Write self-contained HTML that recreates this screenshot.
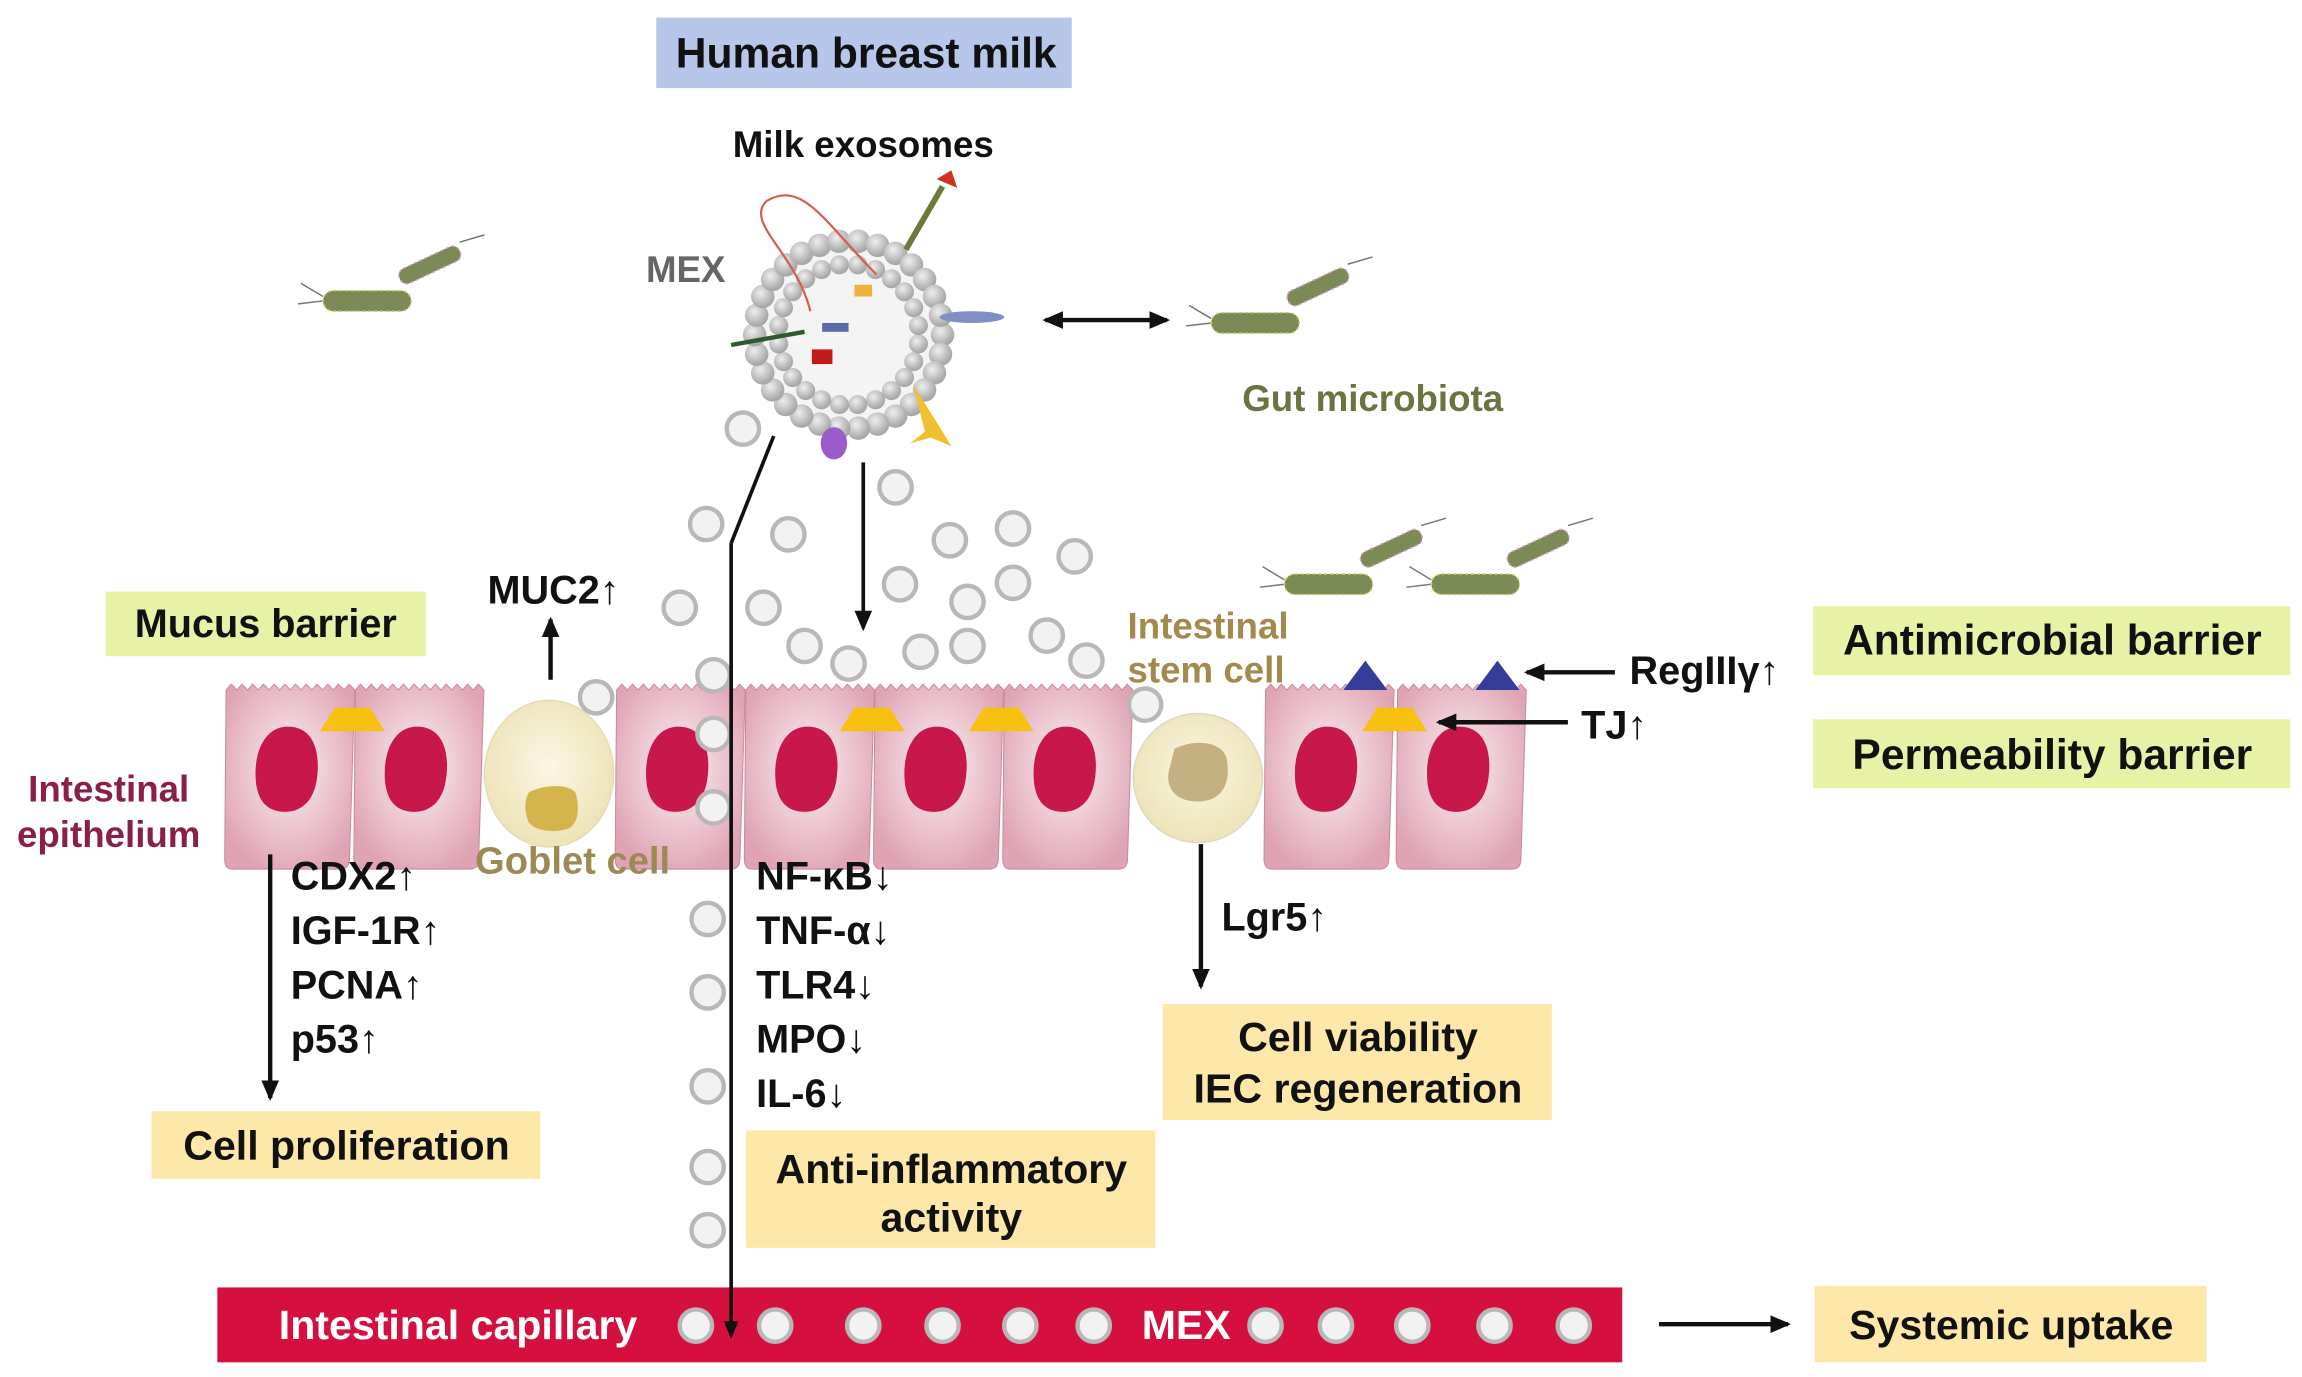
<!DOCTYPE html>
<html><head><meta charset="utf-8"><style>
html,body{margin:0;padding:0;background:#fff}
svg{display:block}
text{font-family:"Liberation Sans",Arial,sans-serif;font-weight:bold}
</style></head><body>
<svg id="s" width="2302" height="1377" viewBox="0 0 1568 938" xmlns="http://www.w3.org/2000/svg">
<defs>
<radialGradient id="cell" cx="50%" cy="45%" r="60%"><stop offset="0" stop-color="#fbf1f3"/><stop offset="1" stop-color="#dfa3b4"/></radialGradient>
<radialGradient id="gob" cx="50%" cy="45%" r="55%"><stop offset="0" stop-color="#fbf6e4"/><stop offset="1" stop-color="#ede3b8"/></radialGradient>
<radialGradient id="bead" cx="40%" cy="35%" r="60%"><stop offset="0" stop-color="#eee"/><stop offset="1" stop-color="#a8a8a8"/></radialGradient>
<marker id="ah" markerWidth="12" markerHeight="12" refX="10" refY="6" orient="auto" markerUnits="userSpaceOnUse"><path d="M0,1 L12,6 L0,11 z" fill="#111"/></marker>
<marker id="ah2" markerWidth="14" markerHeight="14" refX="12" refY="7" orient="auto" markerUnits="userSpaceOnUse"><path d="M0,1 L14,7 L0,13 z" fill="#111"/></marker>
<marker id="ahs" markerWidth="14" markerHeight="14" refX="2" refY="7" orient="auto" markerUnits="userSpaceOnUse"><path d="M14,1 L0,7 L14,13 z" fill="#111"/></marker>
<g id="bac"><line x1="-45" y1="-3" x2="-60" y2="-12" stroke="#777" stroke-width="1"/><line x1="-45" y1="0" x2="-62" y2="2" stroke="#777" stroke-width="1"/><rect x="-45" y="-7" width="60" height="14" rx="7" fill="#7c8a55" stroke="#c7d36a" stroke-dasharray="2 2"/><rect x="5" y="-20" width="45" height="11" rx="5" transform="rotate(-25 5 -20)" fill="#7c8a55" stroke="#d9a0c8" stroke-dasharray="2 2"/><line x1="48" y1="-40" x2="65" y2="-45" stroke="#777"/></g>
</defs>
<rect x="447" y="12" width="283" height="48" fill="#b7c7ea"/>
<text x="590" y="46" font-size="29" text-anchor="middle" fill="#111">Human breast milk</text>
<text x="588" y="107" font-size="25" text-anchor="middle" fill="#111">Milk exosomes</text>
<text x="440" y="192" font-size="25" fill="#666">MEX</text>
<g id="exo"></g>
<use href="#bac" x="265" y="205"/>
<use href="#bac" x="870" y="220"/>
<use href="#bac" x="920" y="398"/>
<use href="#bac" x="1020" y="398"/>
<line x1="712" y1="218" x2="795" y2="218" stroke="#111" stroke-width="3" marker-end="url(#ah2)" marker-start="url(#ahs)"/>
<text x="935" y="280" font-size="25" text-anchor="middle" fill="#6c7340">Gut microbiota</text>
<g id="cells"></g>
<g id="ves"></g>
<line x1="588" y1="315" x2="588" y2="428" stroke="#111" stroke-width="2.5" marker-end="url(#ah2)"/>
<rect x="72" y="403" width="218" height="44" fill="#e8f2a6"/>
<text x="181" y="434" font-size="27" text-anchor="middle" fill="#111">Mucus barrier</text>
<text x="377" y="411" font-size="27" text-anchor="middle" fill="#111">MUC2↑</text>
<line x1="375" y1="463" x2="375" y2="422" stroke="#111" stroke-width="3" marker-end="url(#ah2)"/>
<text x="768" y="435" font-size="25" fill="#a28a4d">Intestinal</text>
<text x="768" y="465" font-size="25" fill="#a28a4d">stem cell</text>
<rect x="1235" y="413" width="325" height="47" fill="#e8f2a6"/>
<text x="1398" y="446" font-size="29" text-anchor="middle" fill="#111">Antimicrobial barrier</text>
<rect x="1235" y="490" width="325" height="47" fill="#e8f2a6"/>
<text x="1398" y="524" font-size="29" text-anchor="middle" fill="#111">Permeability barrier</text>
<text x="1110" y="466" font-size="27" fill="#111">RegIIIγ↑</text>
<line x1="1100" y1="458" x2="1040" y2="458" stroke="#111" stroke-width="3" marker-end="url(#ah2)"/>
<text x="1077" y="503" font-size="27" fill="#111">TJ↑</text>
<line x1="1068" y1="492" x2="980" y2="492" stroke="#111" stroke-width="3" marker-end="url(#ah2)"/>
<text x="74" y="546" font-size="25" text-anchor="middle" fill="#8a1f4a">Intestinal</text>
<text x="74" y="577" font-size="25" text-anchor="middle" fill="#8a1f4a">epithelium</text>
<text x="390" y="595" font-size="26" text-anchor="middle" fill="#9c8a55">Goblet cell</text>
<line x1="184" y1="582" x2="184" y2="748" stroke="#111" stroke-width="3" marker-end="url(#ah2)"/>
<g font-size="27" fill="#111"><text x="198" y="606">CDX2↑</text><text x="198" y="643">IGF-1R↑</text><text x="198" y="680">PCNA↑</text><text x="198" y="717">p53↑</text>
<text x="515" y="606">NF-κB↓</text><text x="515" y="643">TNF-α↓</text><text x="515" y="680">TLR4↓</text><text x="515" y="717">MPO↓</text><text x="515" y="754">IL-6↓</text>
<text x="832" y="634">Lgr5↑</text></g>
<line x1="818" y1="575" x2="818" y2="672" stroke="#111" stroke-width="3" marker-end="url(#ah2)"/>
<rect x="103" y="757" width="265" height="46" fill="#fde7a9"/>
<text x="236" y="790" font-size="28" text-anchor="middle" fill="#111">Cell proliferation</text>
<rect x="508" y="770" width="279" height="80" fill="#fde7a9"/>
<text x="648" y="806" font-size="28" text-anchor="middle" fill="#111">Anti-inflammatory</text>
<text x="648" y="839" font-size="28" text-anchor="middle" fill="#111">activity</text>
<rect x="792" y="684" width="265" height="79" fill="#fde7a9"/>
<text x="925" y="716" font-size="28" text-anchor="middle" fill="#111">Cell viability</text>
<text x="925" y="751" font-size="28" text-anchor="middle" fill="#111">IEC regeneration</text>
<rect x="148" y="877" width="957" height="51" fill="#d5103f"/>
<text x="312" y="912" font-size="28" text-anchor="middle" fill="#fff">Intestinal capillary</text>
<text x="808" y="912" font-size="28" text-anchor="middle" fill="#fff">MEX</text>
<g id="capv"></g>
<line x1="527" y1="297" x2="498" y2="370" stroke="#111" stroke-width="2.5"/>
<line x1="498" y1="370" x2="498" y2="910" stroke="#111" stroke-width="2.5" marker-end="url(#ah)"/>
<line x1="1130" y1="902" x2="1218" y2="902" stroke="#111" stroke-width="3" marker-end="url(#ah2)"/>
<rect x="1236" y="876" width="267" height="52" fill="#fde7a9"/>
<text x="1370" y="912" font-size="28" text-anchor="middle" fill="#111">Systemic uptake</text>
</svg>
<script>
var NS="http://www.w3.org/2000/svg";
function el(p,t,a){var e=document.createElementNS(NS,t);for(var k in a)e.setAttribute(k,a[k]);document.getElementById(p).appendChild(e);return e;}
var cx=578,cy=228;
el("exo","circle",{cx:cx,cy:cy,r:66,fill:"#f4f4f4"});
for(var i=0;i<30;i++){var a=i/30*2*Math.PI;el("exo","circle",{cx:cx+64*Math.cos(a),cy:cy+64*Math.sin(a),r:8,fill:"url(#bead)"});}
for(var i=0;i<24;i++){var a=(i+.5)/24*2*Math.PI;el("exo","circle",{cx:cx+48*Math.cos(a),cy:cy+48*Math.sin(a),r:6.5,fill:"url(#bead)"});}
el("exo","rect",{x:553,y:238,width:14,height:10,fill:"#c21a1a"});
el("exo","rect",{x:560,y:220,width:18,height:6,fill:"#5a6aa8"});
el("exo","rect",{x:582,y:194,width:12,height:8,fill:"#f0b040"});
el("exo","ellipse",{cx:662,cy:216,rx:22,ry:4,fill:"#7f8fc4"});
el("exo","ellipse",{cx:568,cy:302,rx:9,ry:11,fill:"#9a5ccc"});
el("exo","line",{x1:548,y1:226,x2:498,y2:235,stroke:"#2f5a2f","stroke-width":3});
el("exo","line",{x1:617,y1:170,x2:642,y2:127,stroke:"#6b7a3a","stroke-width":4});
el("exo","path",{d:"M638,122 l10,-6 l4,12 z",fill:"#d03020"});
el("exo","path",{d:"M622,262 l8,32 l-10,8 l14,-4 l14,6 l-6,-10 z",fill:"#f0c030"});
el("exo","path",{d:"M597,187 C562,152 547,122 522,137 C507,152 542,172 552,212",fill:"none",stroke:"#d06050","stroke-width":1.5});
var cw=[[152,"c"],[240,"c"],[330,"g"],[418,"c"],[506,"c"],[594,"c"],[682,"c"],[772,"s"],[860,"c"],[950,"c"]];
cw.forEach(function(c){var x=c[0];
 if(c[1]=="c"){var p="M"+(x+2)+",470 ";for(var k=0;k<12;k++){p+="L"+(x+2+k*7.3+3.5)+",466 L"+(x+2+(k+1)*7.3)+",470 ";}
  p+="L"+(x+86)+",585 Q"+(x+86)+",592 "+(x+80)+",592 L"+(x+6)+",592 Q"+(x+1)+",592 "+(x+1)+",585 Z";
  el("cells","path",{d:p,fill:"url(#cell)",stroke:"#c98a9c","stroke-width":0.7});
  el("cells","path",{d:"M"+(x+44)+","+495+" c18,0 22,18 20,34 c-2,18 -12,24 -22,24 c-14,0 -20,-10 -20,-26 c0,-18 8,-32 22,-32z",fill:"#c8174a"});
 } else if(c[1]=="g"){el("cells","ellipse",{cx:x+44,cy:527,rx:44,ry:50,fill:"url(#gob)",stroke:"#e6dcb0"});
  el("cells","path",{d:"M"+(x+30)+",540 c10,-6 28,-6 32,0 c3,10 2,20 -4,24 c-10,4 -24,2 -28,-4 c-3,-8 -3,-14 0,-20z",fill:"#d4b44c"});
 } else {el("cells","ellipse",{cx:x+44,cy:530,rx:44,ry:44,fill:"url(#gob)",stroke:"#e0d8c0"});
  el("cells","path",{d:"M"+(x+28)+",510 c16,-8 36,-4 36,10 c2,14 -4,26 -20,26 c-14,0 -22,-8 -20,-20 z",fill:"#c4b080"});}
});
[240,594,682,950].forEach(function(x){el("cells","path",{d:"M"+(x-22)+",498 L"+(x-12)+",482 L"+(x+12)+",482 L"+(x+22)+",498 Z",fill:"#f8c010"});});
[930,1020].forEach(function(x){el("cells","path",{d:"M"+(x-15)+",470 L"+x+",450 L"+(x+15)+",470 Z",fill:"#343e9a"});});
var vs=[[506,292],[610,332],[481,357],[537,364],[690,360],[647,368],[732,379],[463,414],[520,414],[613,398],[659,410],[690,397],[548,440],[578,452],[627,444],[659,440],[713,433],[740,450],[486,460],[406,475],[780,480],[486,500],[486,550],[482,626],[482,676],[482,740],[482,795],[482,838]];
vs.forEach(function(v){el("ves","circle",{cx:v[0],cy:v[1],r:11,fill:"#f2f2f2",stroke:"#b8b8b8","stroke-width":3});});
[474,528,588,642,695,745,862,910,962,1018,1072].forEach(function(x){el("capv","circle",{cx:x,cy:903,r:11,fill:"#f2f2f2",stroke:"#b8b8b8","stroke-width":3});});
</script>
</body></html>
